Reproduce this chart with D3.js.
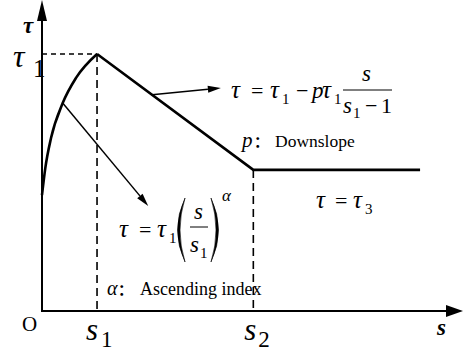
<!DOCTYPE html>
<html>
<head>
<meta charset="utf-8">
<script src="https://cdn.jsdelivr.net/npm/d3@7"></script>
<style>
  body { margin: 0; background: #fff; }
</style>
</head>
<body>
<div id="chart"></div>
<script>
// Bond-slip constitutive curve (tau vs s), values in relative units (s1 = 1, tau1 = 1)

// rising branch
var riseS   = [0, 0.06, 0.164, 0.376, 0.618, 1];
var riseTau = [0.451, 0.556, 0.673, 0.809, 0.907, 1];

// key points
var keyNames = ['s1', 's2', 'end'];
var keyS     = [1, 3.84, 6.87];
var keyTau   = [1, 0.549, 0.549];

// axis extent
var sMax = 7.65, tauMax = 1.21;

// annotation arrows: [s, tau] at tail and head
var arrowFrom = [[2.0, 0.841], [0.376, 0.809]];
var arrowTo   = [[3.25, 0.868], [1.93, 0.409]];

var serif = "'Liberation Serif', 'Times New Roman', serif";

var width = 463, height = 359;

var x = d3.scaleLinear().domain([0, sMax]).range([42, 463]);
var y = d3.scaleLinear().domain([0, 1]).range([311, 54]);

var svg = d3.select('#chart').append('svg')
  .attr('width', width)
  .attr('height', height);

// ---- axes ----
var ax = svg.append('g');
ax.append('line')
  .attr('x1', x(0)).attr('y1', y(0))
  .attr('x2', x(0)).attr('y2', y(tauMax) + 18)
  .attr('stroke', '#000').attr('stroke-width', 2);
ax.append('path')
  .attr('d', 'M' + x(0) + ',' + y(tauMax) + 'L' + (x(0) - 5) + ',' + (y(tauMax) + 21) +
             'L' + (x(0) + 5) + ',' + (y(tauMax) + 21) + 'Z')
  .attr('fill', '#000');
ax.append('line')
  .attr('x1', x(0) - 1).attr('y1', y(0))
  .attr('x2', x(sMax) - 16).attr('y2', y(0))
  .attr('stroke', '#000').attr('stroke-width', 2);
ax.append('path')
  .attr('d', 'M' + x(sMax) + ',' + y(0) + 'L' + (x(sMax) - 17) + ',' + (y(0) - 6) +
             'L' + (x(sMax) - 17) + ',' + (y(0) + 6) + 'Z')
  .attr('fill', '#000');

// ---- dashed guides ----
var guides = svg.append('g')
  .attr('stroke', '#000')
  .attr('stroke-width', 1.6)
  .attr('fill', 'none');
guides.append('line')
  .attr('x1', x(0)).attr('y1', y(keyTau[0]))
  .attr('x2', x(keyS[0])).attr('y2', y(keyTau[0]))
  .attr('stroke-dasharray', '5,4');
guides.append('line')
  .attr('x1', x(keyS[0])).attr('y1', y(keyTau[0]))
  .attr('x2', x(keyS[0])).attr('y2', y(0))
  .attr('stroke-dasharray', '8,5');
guides.append('line')
  .attr('x1', x(keyS[1])).attr('y1', y(keyTau[1]))
  .attr('x2', x(keyS[1])).attr('y2', y(0))
  .attr('stroke-dasharray', '8,5');

// ---- curve ----
var risePts = riseS.map(function(s, i) { return [s, riseTau[i]]; });
var line = d3.line()
  .x(function(d) { return x(d[0]); })
  .y(function(d) { return y(d[1]); });

svg.append('path')
  .datum(risePts)
  .attr('d', line.curve(d3.curveMonotoneX))
  .attr('fill', 'none')
  .attr('stroke', '#000')
  .attr('stroke-width', 2.6);

var restPts = keyS.map(function(s, i) { return [s, keyTau[i]]; });
svg.append('path')
  .datum(restPts)
  .attr('d', d3.line()
    .x(function(d) { return x(d[0]); })
    .y(function(d) { return y(d[1]); })
    .curve(d3.curveLinear))
  .attr('fill', 'none')
  .attr('stroke', '#000')
  .attr('stroke-width', 2.6)
  .attr('stroke-linejoin', 'miter');

// ---- arrows ----
arrowFrom.forEach(function(a, i) {
  var b = arrowTo[i];
  var x0 = x(a[0]), y0 = y(a[1]), x1 = x(b[0]), y1 = y(b[1]);
  var ang = Math.atan2(y1 - y0, x1 - x0);
  var len = 13, half = 3.5;
  var bx = x1 - len * Math.cos(ang), by = y1 - len * Math.sin(ang);
  svg.append('line')
    .attr('x1', x0).attr('y1', y0).attr('x2', bx).attr('y2', by)
    .attr('stroke', '#000').attr('stroke-width', 1.5);
  svg.append('path')
    .attr('d', 'M' + x1 + ',' + y1 +
      'L' + (bx - half * Math.sin(ang)) + ',' + (by + half * Math.cos(ang)) +
      'L' + (bx + half * Math.sin(ang)) + ',' + (by - half * Math.cos(ang)) + 'Z')
    .attr('fill', '#000');
});

// ---- text ----
function put(t, px, py, size, opt) {
  opt = opt || {};
  return svg.append('text')
    .attr('x', px).attr('y', py)
    .attr('font-family', opt.f || serif)
    .attr('font-size', size)
    .attr('font-style', opt.it ? 'italic' : 'normal')
    .attr('font-weight', opt.b ? 'bold' : 'normal')
    .attr('fill', '#000')
    .text(t);
}

// axis titles
put('\u03c4', 23, 33, 23, { it: 1, b: 1 });
put('s', 437, 335, 23, { it: 1, b: 1 });
put('O', 22, 331, 21);

// tau1 on y axis
put('\u03c4', 13, 67, 32, { it: 1 });
put('1', 33, 77, 25);

// s1, s2 on x axis
put('s', x(keyS[0]) - 11, 340, 31, { it: 1 });
put('1', x(keyS[0]) + 4, 347, 23);
put('s', x(keyS[1]) - 9, 340, 31, { it: 1 });
put('2', x(keyS[1]) + 5, 347, 23);

// formula for the descending branch
put('\u03c4', 231, 98, 25, { it: 1 });
put('=', 251, 98, 22);
put('\u03c4', 270, 98, 25, { it: 1 });
put('1', 282, 104, 15);
put('\u2212', 296, 98, 22);
put('p', 312, 98, 23, { it: 1 });
put('\u03c4', 322, 98, 25, { it: 1 });
put('1', 334, 104, 15);
svg.append('line')
  .attr('x1', 343).attr('x2', 392).attr('y1', 90).attr('y2', 90)
  .attr('stroke', '#000').attr('stroke-width', 1);
put('s', 362, 81, 23, { it: 1 });
put('s', 343, 113, 23, { it: 1 });
put('1', 353, 118, 15);
put('\u2212', 365, 113, 22);
put('1', 381, 113, 22);

put('p', 242, 147, 21, { it: 1 });
put('\uff1a', 254, 147, 15, { f: "'Noto Sans CJK SC'", b: 1 });
put('Downslope', 275, 147, 17.5);

// plateau
put('\u03c4', 316, 208, 25, { it: 1 });
put('=', 335, 208, 22);
put('\u03c4', 353, 208, 25, { it: 1 });
put('3', 365, 214, 15);

// rising branch formula
put('\u03c4', 119, 237, 25, { it: 1 });
put('=', 139, 237, 22);
put('\u03c4', 157, 237, 25, { it: 1 });
put('1', 169, 243, 15);
// big parentheses
svg.append('path')
  .attr('d', 'M185,198 Q170,230 185,262 Q175,230 185,198 Z')
  .attr('fill', '#000').attr('stroke', '#000').attr('stroke-width', 0.6);
svg.append('path')
  .attr('d', 'M211,198 Q226,230 211,262 Q221,230 211,198 Z')
  .attr('fill', '#000').attr('stroke', '#000').attr('stroke-width', 0.6);
svg.append('line')
  .attr('x1', 190).attr('x2', 208).attr('y1', 227).attr('y2', 227)
  .attr('stroke', '#000').attr('stroke-width', 1);
put('s', 194, 219, 23, { it: 1 });
put('s', 190, 252, 23, { it: 1 });
put('1', 200, 258, 15);
put('\u03b1', 222, 201, 17, { it: 1 });

put('\u03b1', 107, 295, 20, { it: 1 });
put('\uff1a', 118, 295, 15, { f: "'Noto Sans CJK SC'", b: 1 });
put('Ascending index', 140, 295, 18);
</script>
</body>
</html>
